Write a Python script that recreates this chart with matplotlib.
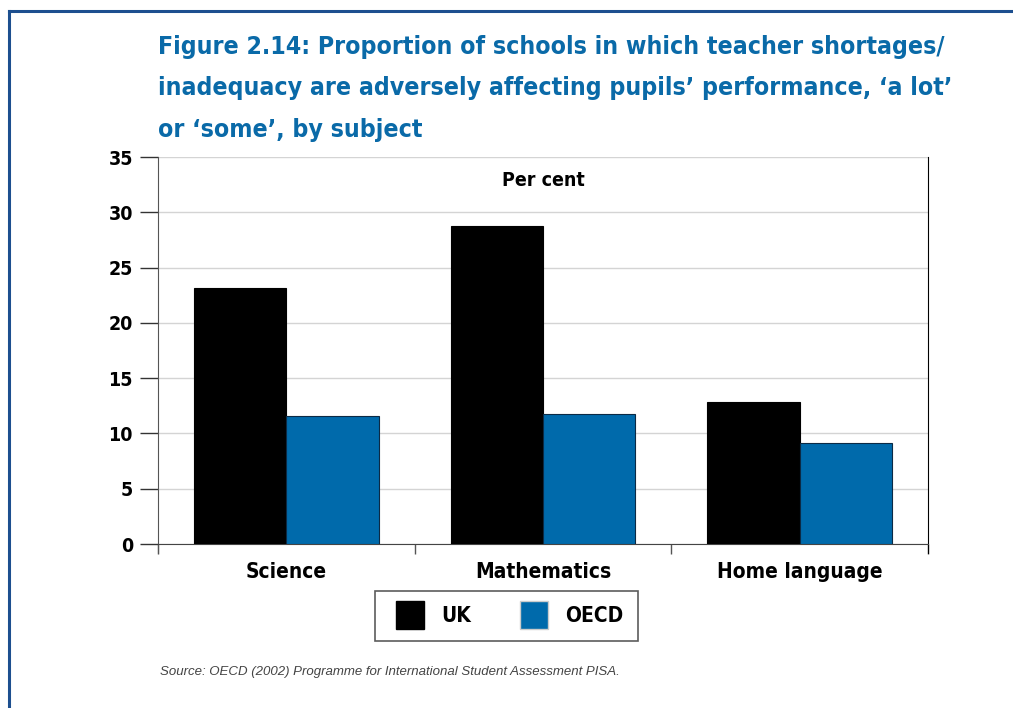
import matplotlib
matplotlib.use("Agg")
from matplotlib import pyplot as plt
from matplotlib.lines import Line2D
import numpy as np

subjects = ["Science", "Mathematics", "Home language"]
uk = [23.2, 28.8, 12.8]
oecd = [11.6, 11.8, 9.1]
series_names = ["UK", "OECD"]

title = ("Figure 2.14: Proportion of schools in which teacher shortages/\n"
         "inadequacy are adversely affecting pupils\u2019 performance, \u2018a lot\u2019\n"
         "or \u2018some\u2019, by subject")
source = "Source: OECD (2002) Programme for International Student Assessment PISA."

BLUE = "#006aab"
TITLE_BLUE = "#0a6aa8"

plt.rcParams["font.family"] = ["DejaVu Sans"]
plt.rcParams["font.stretch"] = "condensed"

fig = plt.figure(figsize=(10.13, 7.08), dpi=100)
ax = fig.add_axes([0.156, 0.2316, 0.76, 0.5466])

x = np.arange(len(subjects)) + 0.5
w = 0.36
ax.bar(x - w / 2, uk, w, color="black", edgecolor="black", linewidth=0.8, label=series_names[0], zorder=3)
ax.bar(x + w / 2, oecd, w, color=BLUE, edgecolor="#0b2a45", linewidth=0.8, label=series_names[1], zorder=3)

ax.set_xlim(0, 3)
ax.set_ylim(0, 35)
ax.set_yticks(range(0, 36, 5))
ax.set_xticks([0, 1, 2, 3])
ax.set_xticklabels([])
ax.yaxis.grid(True, color="#d4d4d4", linewidth=1.0, zorder=0)
ax.set_axisbelow(True)

ax.spines["top"].set_visible(False)
ax.spines["left"].set_color("#555555")
ax.spines["left"].set_bounds(-0.8, 35)
ax.spines["bottom"].set_color("#444444")
ax.spines["right"].set_color("black")
ax.spines["right"].set_bounds(-0.8, 35)

ax.tick_params(axis="y", direction="out", length=13, width=1, color="#333333",
               labelsize=14, pad=5)
ax.tick_params(axis="x", direction="out", length=7, width=1, color="#555555")
for lab in ax.get_yticklabels():
    lab.set_fontweight("bold")
    lab.set_fontstretch("condensed")

for xi, name in zip(x, subjects):
    ax.text(xi, -2.5, name, ha="center", va="center", fontsize=15, fontweight="bold",
            fontstretch="condensed")

ax.text(1.5, 32.9, "Per cent", ha="center", va="center", fontsize=14, fontweight="bold",
        fontstretch="condensed")

fig.text(0.156, 0.95, title, ha="left", va="top", fontsize=17.8, fontweight="bold",
         fontstretch="condensed", color=TITLE_BLUE, linespacing=1.9)

handles = [Line2D([], [], marker="s", linestyle="none", markersize=20, markerfacecolor="black",
                  markeredgecolor="black"),
           Line2D([], [], marker="s", linestyle="none", markersize=20, markerfacecolor=BLUE,
                  markeredgecolor="#cccccc")]
leg = fig.legend(handles, series_names, loc="center", bbox_to_anchor=(0.5, 0.13), ncol=2,
                 frameon=True, fancybox=False, edgecolor="#333333", columnspacing=2.0,
                 handletextpad=0.5, borderpad=0.7, borderaxespad=0,
                 prop={"weight": "bold", "size": 15, "stretch": "condensed"})
leg.get_frame().set_linewidth(1.2)

fig.text(0.158, 0.051, source, ha="left", va="center", fontsize=9.5, style="italic",
         color="#444444", family=["Liberation Sans", "DejaVu Sans"])

# blue frame on top and left of the page
fig.add_artist(Line2D([0.009, 1.0], [0.984, 0.984], color="#1d4f8f", linewidth=2.2,
                      transform=fig.transFigure))
fig.add_artist(Line2D([0.009, 0.009], [0.0, 0.984], color="#1d4f8f", linewidth=2.2,
                      transform=fig.transFigure))

fig.savefig("out.png", dpi=100)
